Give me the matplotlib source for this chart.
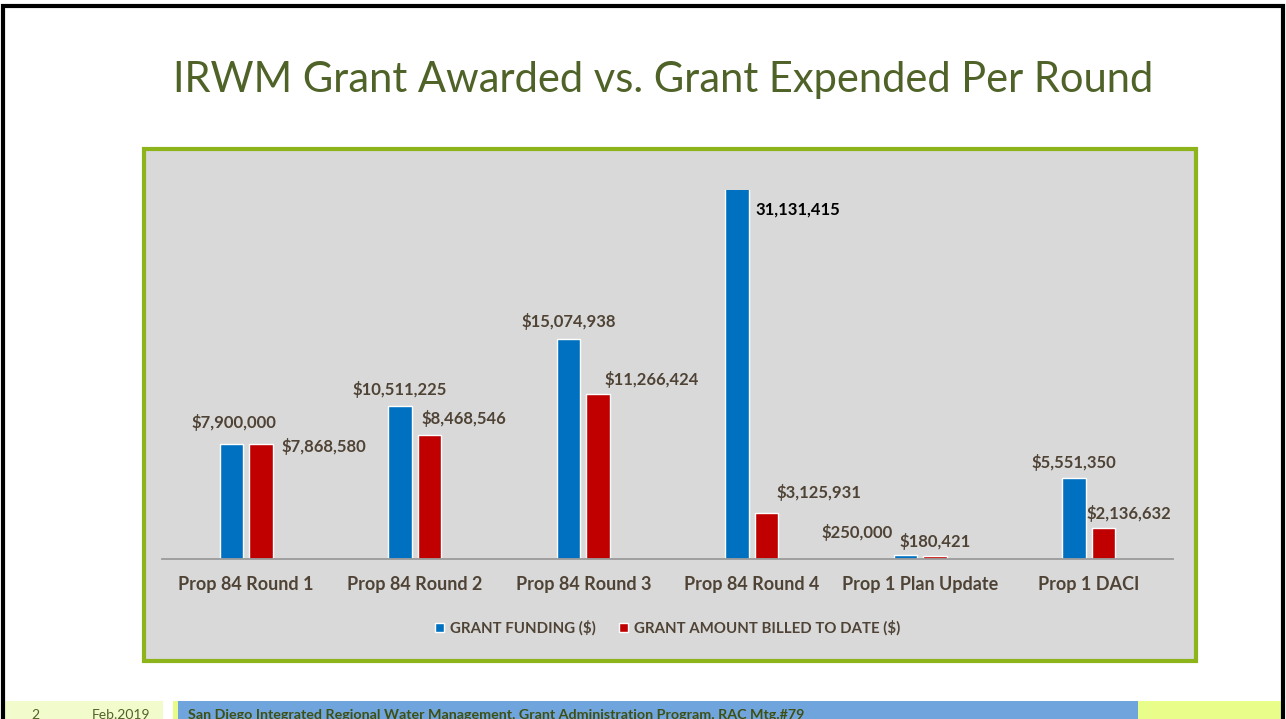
import numpy as np
import matplotlib.pyplot as plt
from matplotlib.patches import Rectangle

# data
rounds = ["Prop 84 Round 1", "Prop 84 Round 2", "Prop 84 Round 3",
          "Prop 84 Round 4", "Prop 1 Plan Update", "Prop 1 DACI"]
funding = [7900000, 10511225, 15074938, 31131415, 250000, 5551350]
billed = [7868580, 8468546, 11266424, 3125931, 180421, 2136632]
funding_labels = ["$7,900,000", "$10,511,225", "$15,074,938", "31,131,415", "$250,000", "$5,551,350"]
billed_labels = ["$7,868,580", "$8,468,546", "$11,266,424", "$3,125,931", "$180,421", "$2,136,632"]

# label offsets from bar top (pixels, right / up)
funding_off = [(2, 21), (0, 16), (0, 17), (61, -20), (-48, 23), (0, 15)]
billed_off = [(63, -2), (34, 17), (54, 15), (53, 21), (0, 15), (25, 14)]

W, H = 1286, 719
BLUE = "#0070C0"
RED = "#C00000"
TXT = "#4F4336"
FONT = "Lato"

fig = plt.figure(figsize=(W / 100, H / 100), dpi=100)
fig.patch.set_facecolor("white")

# background layer in pixel coordinates
bg = fig.add_axes([0, 0, 1, 1])
bg.set_xlim(0, W)
bg.set_ylim(H, 0)
bg.axis("off")

# slide frame
bg.plot([2.5, 2.5, 1283, 1283], [H, 6, 6, H], color="black", lw=3, solid_joinstyle="miter")

# title
bg.text(663, 80, "IRWM Grant Awarded vs. Grant Expended Per Round", fontsize=30,
        color="#4F6228", family=FONT, ha="center", va="center")

# chart box
bg.add_patch(Rectangle((144, 149), 1052, 512, facecolor="#D9D9D9",
                       edgecolor="#8DB41A", lw=3))

# footer
bg.add_patch(Rectangle((4, 701), 159, 18, facecolor="#F2FBCB", edgecolor="none"))
bg.add_patch(Rectangle((173, 701), 5, 18, facecolor="#E6FB8A", edgecolor="none"))
bg.add_patch(Rectangle((178, 701), 960, 18, facecolor="#6FA5DC", edgecolor="none"))
bg.add_patch(Rectangle((1138, 701), 144, 18, facecolor="#E8FD8A", edgecolor="none"))
bg.text(35, 715, "2", fontsize=10, color="#4F6228", family=FONT, ha="center", va="center")
bg.text(121, 715, "Feb.2019", fontsize=10, color="#4F6228", family=FONT, ha="center", va="center")
bg.text(188, 715, "San Diego Integrated Regional Water Management, Grant Administration Program, RAC Mtg.#79",
        fontsize=10.3, color="#3F5014", family=FONT, weight="bold", ha="left", va="center")

# chart axes
ax = fig.add_axes([162 / W, (H - 559) / H, 1011 / W, 369 / H])
ax.set_facecolor("#D9D9D9")
x = np.arange(len(rounds))
off = 0.087
bw = 0.14
ax.bar(x - off, funding, bw, color=BLUE, edgecolor="white", lw=1, label="GRANT FUNDING ($)")
ax.bar(x + off, billed, bw, color=RED, edgecolor="white", lw=1, label="GRANT AMOUNT BILLED TO DATE ($)")
ymax = 25.27e6
ax.set_ylim(0, ymax)
ax.set_xlim(-0.5, len(rounds) - 0.5)

for i in range(len(rounds)):
    fy = min(funding[i], ymax)
    col = "black" if funding[i] > ymax else TXT
    ax.annotate(funding_labels[i], (x[i] - off, fy), xytext=funding_off[i],
                textcoords="offset pixels", ha="center", va="center", fontsize=12,
                weight="bold", color=col, family=FONT, annotation_clip=False)
    ax.annotate(billed_labels[i], (x[i] + off, billed[i]), xytext=billed_off[i],
                textcoords="offset pixels", ha="center", va="center", fontsize=12,
                weight="bold", color=TXT, family=FONT, annotation_clip=False)

for s in ["top", "right", "left"]:
    ax.spines[s].set_visible(False)
ax.spines["bottom"].set_color("#9A9A9A")
ax.spines["bottom"].set_linewidth(1.3)
ax.set_yticks([])
ax.set_xticks(x)
ax.set_xticklabels(rounds, fontsize=13, weight="bold", color=TXT, family=FONT)
ax.tick_params(axis="x", length=0, pad=12)

leg = ax.legend(loc="center", bbox_to_anchor=(0.5, -0.187), ncol=2, frameon=False,
                handlelength=0.6, handleheight=0.6, handletextpad=0.4, columnspacing=1.6,
                prop={"family": FONT, "weight": "bold", "size": 10.8})
for t in leg.get_texts():
    t.set_color(TXT)

fig.savefig("out.png", dpi=100)
